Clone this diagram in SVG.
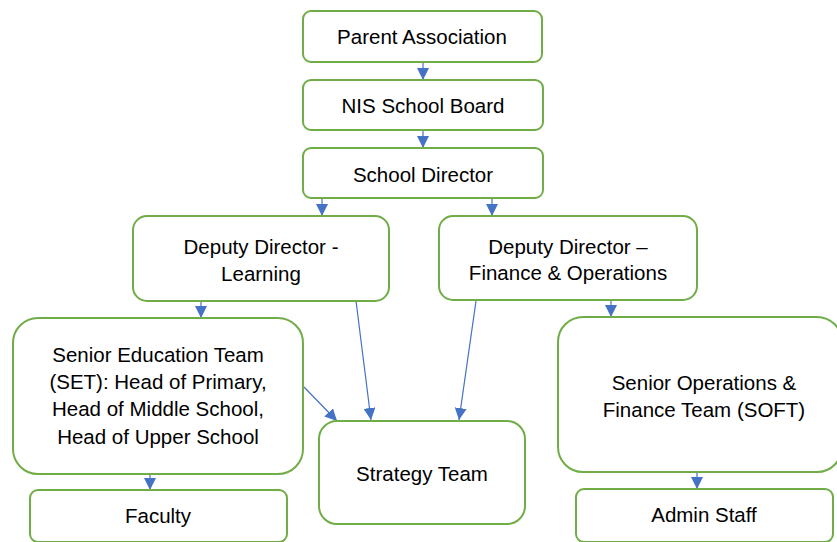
<svg xmlns="http://www.w3.org/2000/svg" width="837" height="542" viewBox="0 0 837 542">
<style>
.box{fill:#fff;stroke:#70AD47;stroke-width:2}
.t{font-family:"Liberation Sans",Arial,sans-serif;font-size:20.5px;fill:#000;text-anchor:middle}
.c{stroke:#4472C4;stroke-width:1.2;fill:none;marker-end:url(#ah)}
</style>
<defs>
<marker id="ah" markerUnits="userSpaceOnUse" markerWidth="12" markerHeight="12" viewBox="0 0 10 10" refX="10" refY="5" orient="auto">
<path d="M0,0 L10,5 L0,10 z" fill="#4472C4"/>
</marker>
</defs>
<rect width="837" height="542" fill="#fff"/>
<g id="connectors">
<line class="c" x1="423" y1="62" x2="423" y2="80"/>
<line class="c" x1="423" y1="130" x2="423" y2="148"/>
<line class="c" x1="322" y1="198" x2="322" y2="216"/>
<line class="c" x1="492" y1="198" x2="492" y2="216"/>
<line class="c" x1="201" y1="301" x2="201" y2="318"/>
<line class="c" x1="611" y1="300" x2="611" y2="317"/>
<line class="c" x1="150" y1="474" x2="150" y2="490"/>
<line class="c" x1="697" y1="472" x2="697" y2="489"/>
<line class="c" x1="304" y1="387" x2="337" y2="421"/>
<line class="c" x1="356" y1="301" x2="371" y2="420"/>
<line class="c" x1="476" y1="301" x2="459" y2="420"/>
</g>
<g id="parent-association">
<rect class="box" x="303" y="11" width="239" height="51" rx="8"/>
<text class="t" x="422" y="44">Parent Association</text>
</g>
<g id="nis-school-board">
<rect class="box" x="303" y="80" width="240" height="50" rx="8"/>
<text class="t" x="423" y="113">NIS School Board</text>
</g>
<g id="school-director">
<rect class="box" x="303" y="148" width="240" height="50" rx="8"/>
<text class="t" x="423" y="182">School Director</text>
</g>
<g id="deputy-learning">
<rect class="box" x="133" y="216" width="256" height="85" rx="14"/>
<text class="t" x="261" y="254">Deputy Director -</text>
<text class="t" x="261" y="281">Learning</text>
</g>
<g id="deputy-finance">
<rect class="box" x="439" y="216" width="258" height="84" rx="14"/>
<text class="t" x="568" y="254">Deputy Director –</text>
<text class="t" x="568" y="280">Finance &amp; Operations</text>
</g>
<g id="set">
<rect class="box" x="13" y="318" width="290" height="156" rx="25"/>
<text class="t" x="158" y="362">Senior Education Team</text>
<text class="t" x="158" y="389">(SET): Head of Primary,</text>
<text class="t" x="158" y="416">Head of Middle School,</text>
<text class="t" x="158" y="444">Head of Upper School</text>
</g>
<g id="strategy-team">
<rect class="box" x="319" y="421" width="206" height="103" rx="18"/>
<text class="t" x="422" y="481">Strategy Team</text>
</g>
<g id="soft">
<rect class="box" x="558" y="317" width="284" height="155" rx="25"/>
<text class="t" x="704" y="390">Senior Operations &amp;</text>
<text class="t" x="704" y="417">Finance Team (SOFT)</text>
</g>
<g id="faculty">
<rect class="box" x="30" y="490" width="257" height="52" rx="8"/>
<text class="t" x="158" y="523">Faculty</text>
</g>
<g id="admin-staff">
<rect class="box" x="576" y="489" width="257" height="53" rx="8"/>
<text class="t" x="704" y="522">Admin Staff</text>
</g>
</svg>
